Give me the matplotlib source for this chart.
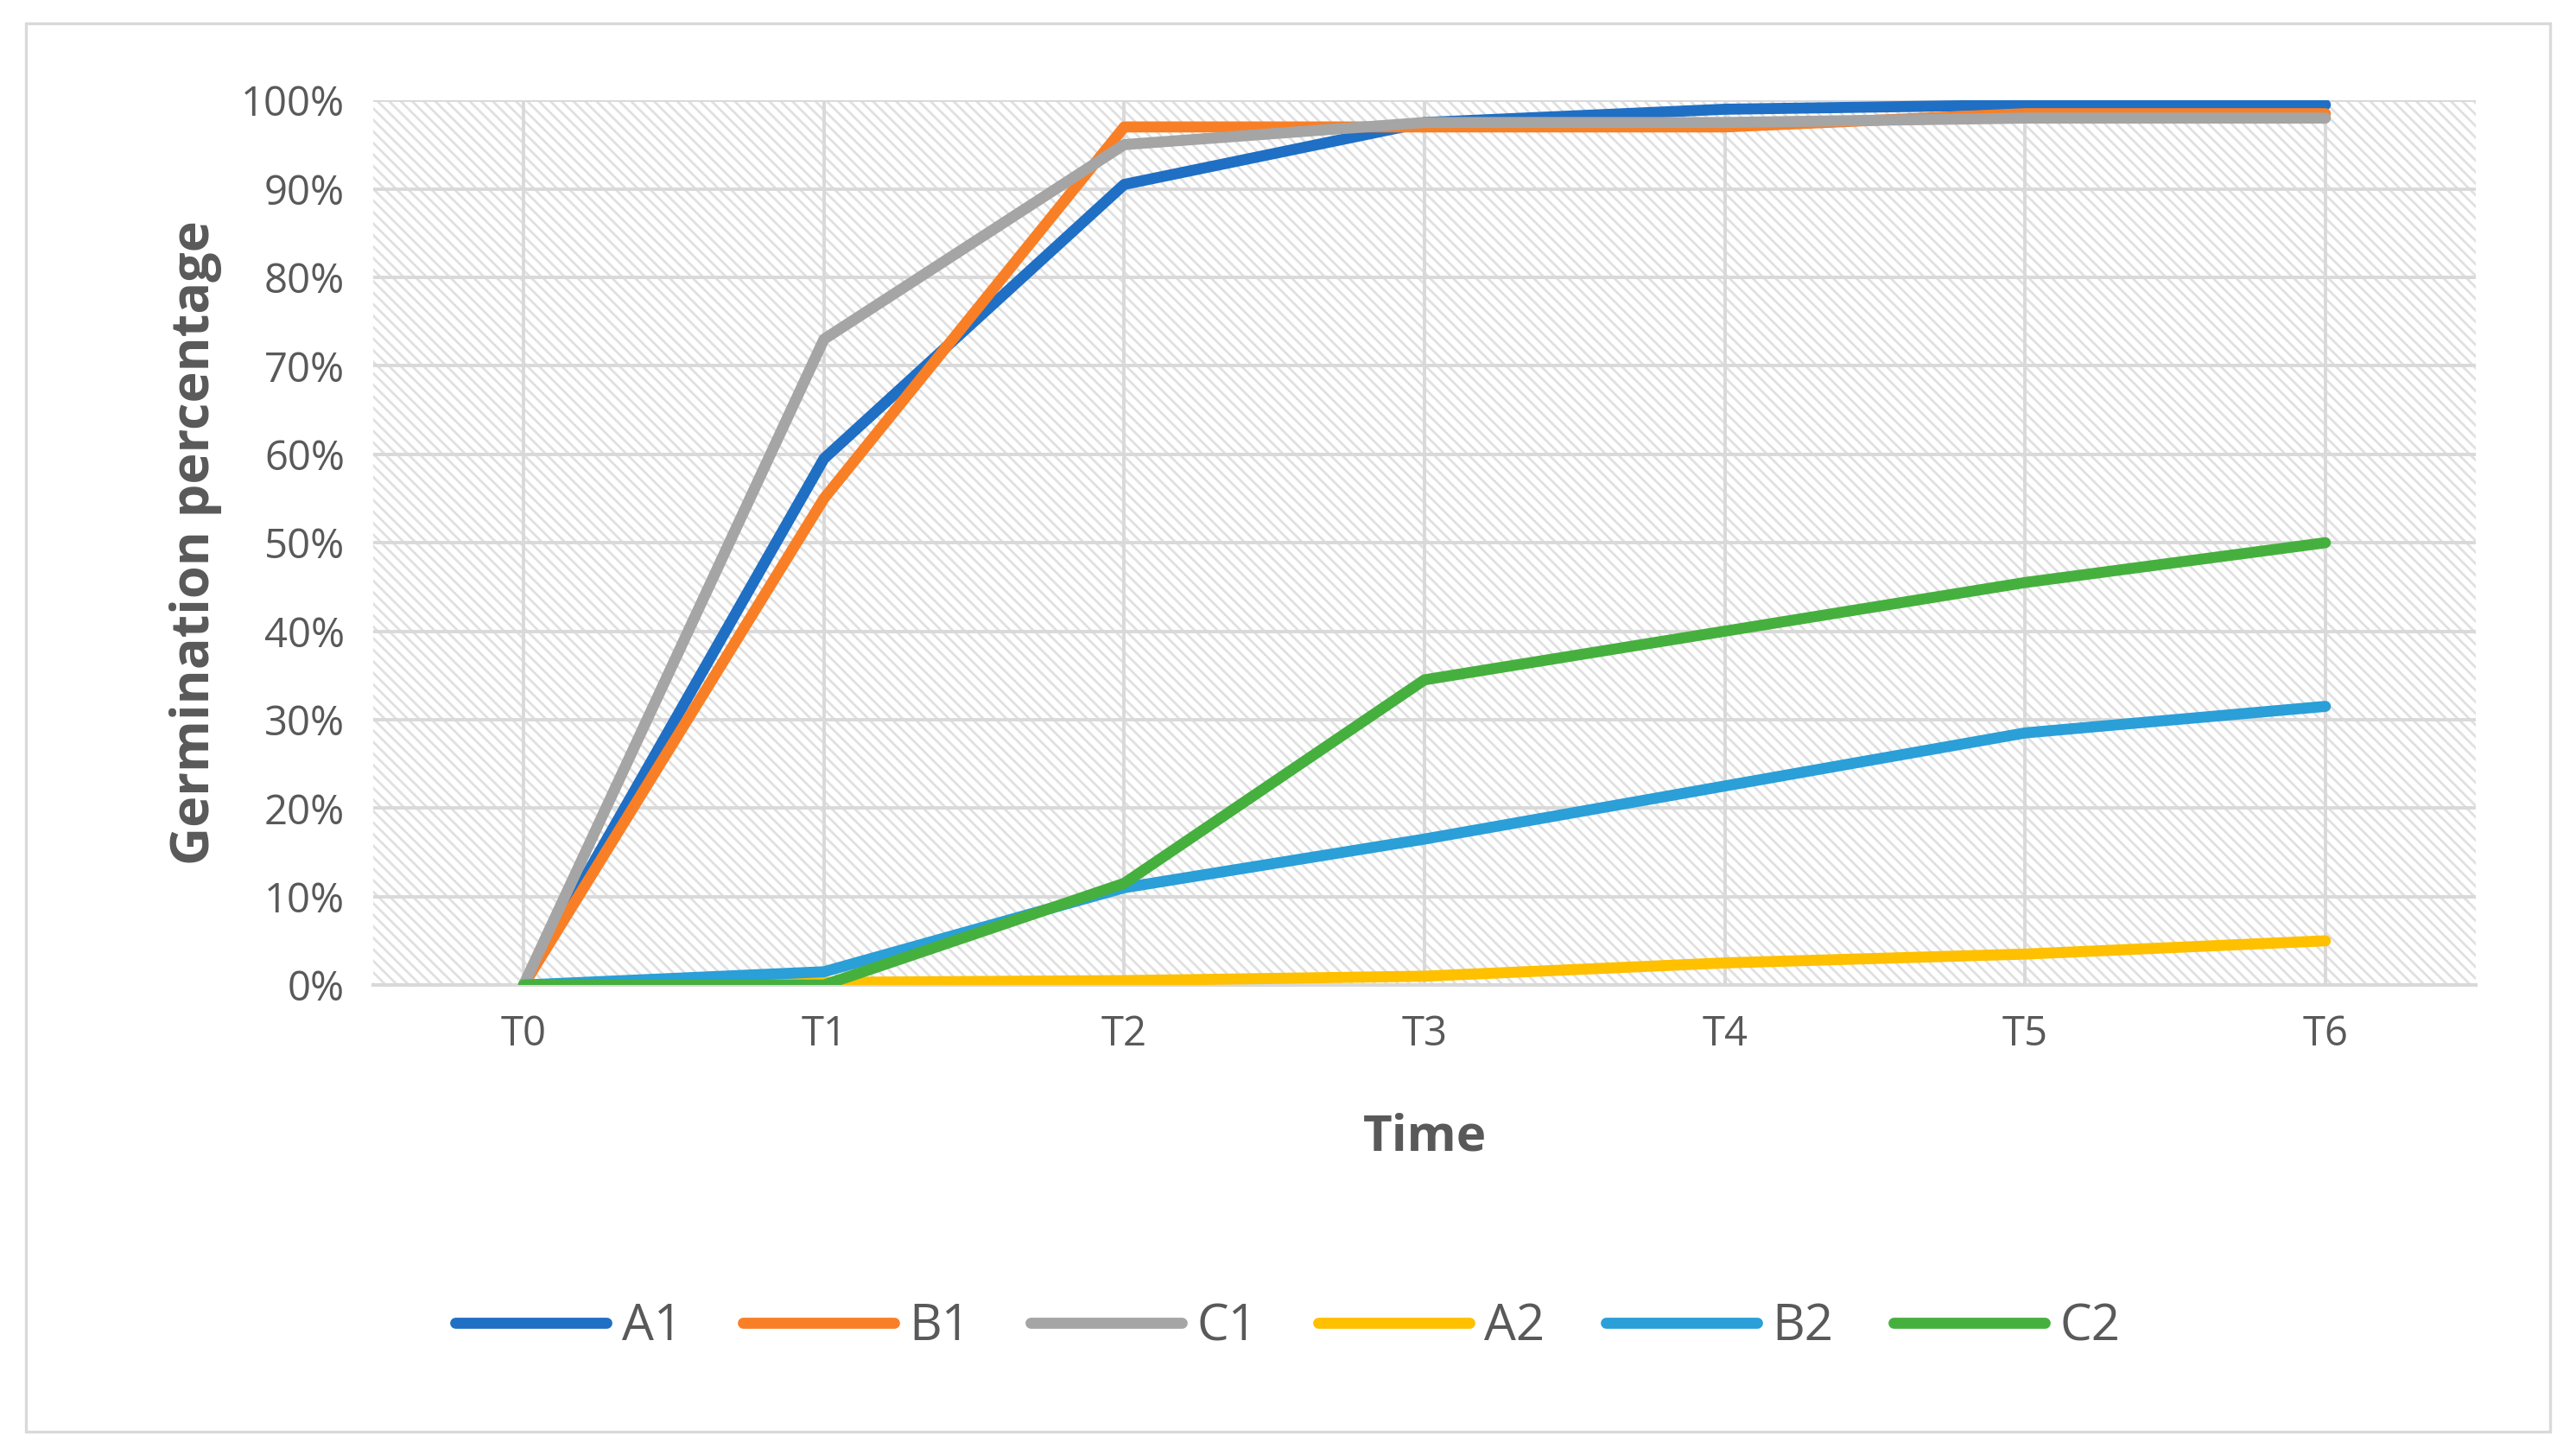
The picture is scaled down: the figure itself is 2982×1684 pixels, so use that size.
import matplotlib.pyplot as plt
from matplotlib.patches import Rectangle
from matplotlib.ticker import PercentFormatter

plt.rcParams['font.family'] = ['Open Sans', 'DejaVu Sans']
plt.rcParams['hatch.color'] = '#e0e0e0'
plt.rcParams['hatch.linewidth'] = 1.0

times = ["T0", "T1", "T2", "T3", "T4", "T5", "T6"]
a1 = [0, 59.5, 90.5, 97.5, 99, 99.5, 99.5]
b1 = [0, 55, 97, 97, 97, 98.5, 98.5]
c1 = [0, 73, 95, 97.5, 97.5, 98, 98]
a2 = [0, 0.3, 0.5, 1, 2.5, 3.5, 5]
b2 = [0, 1.5, 11, 16.5, 22.5, 28.5, 31.5]
c2 = [0, 0, 11.5, 34.5, 40, 45.5, 50]

series = [("A1", a1, "#1f6fc5"), ("B1", b1, "#f97f26"), ("C1", c1, "#a5a5a5"),
          ("A2", a2, "#ffc000"), ("B2", b2, "#2a9fd8"), ("C2", c2, "#46b03e")]

fig = plt.figure(figsize=(14.91, 8.42), dpi=200)
fig.patches.append(Rectangle((0.01, 0.016), 0.98, 0.968, transform=fig.transFigure,
                             fill=False, edgecolor='#d9d9d9', linewidth=1.2))
ax = fig.add_axes([0.145, 0.323, 0.816, 0.608])
ax.add_patch(Rectangle((0, 0), 1, 1, transform=ax.transAxes, facecolor='white',
                       hatch='\\\\\\\\\\', edgecolor='#e0e0e0', linewidth=0, zorder=0))

x = range(len(times))
for name, vals, col in series:
    ax.plot(x, vals, color=col, linewidth=4.6, label=name, solid_capstyle='round', zorder=3)

ax.set_xlim(-0.5, 6.5)
ax.set_ylim(0, 100)
ax.set_yticks(range(0, 101, 10))
ax.yaxis.set_major_formatter(PercentFormatter(decimals=0))
ax.set_xticks(list(x))
ax.set_xticklabels(times)
ax.grid(True, color='#d9d9d9', linewidth=1.4, zorder=1)
ax.set_axisbelow(True)
for s in ['top', 'right', 'left']:
    ax.spines[s].set_visible(False)
ax.spines['bottom'].set_color('#d9d9d9')
ax.spines['bottom'].set_linewidth(1.5)
ax.tick_params(length=0, labelsize=17, labelcolor='#595959', pad=12)
ax.set_xlabel("Time", fontsize=21, fontweight='bold', color='#595959', labelpad=24)
ax.set_ylabel("Germination percentage", fontsize=22, fontweight='bold', color='#595959', labelpad=8)

fig.legend(loc='center', bbox_to_anchor=(0.5, 0.088), ncol=6, frameon=False,
           fontsize=21, labelcolor='#595959', handlelength=3, handletextpad=0.3,
           columnspacing=1.2)

fig.savefig("out.png", dpi=200)
